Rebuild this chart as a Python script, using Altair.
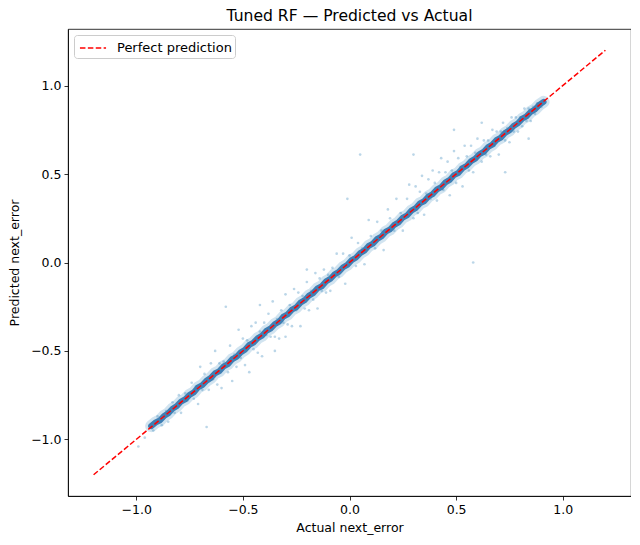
"""
Tuned RF - predicted vs actual scatter, recreated with Altair
"""
import pandas as pd
import altair as alt

alt.data_transformers.disable_max_rows()

# ---------------------------------------------------------------------------
# Data
# ---------------------------------------------------------------------------
# dense core of points that sits right on the diagonal
band_actual = [
    -0.93, -0.91, -0.89, -0.87, -0.85, -0.83, -0.81, -0.79, -0.77, -0.75,
    -0.73, -0.71, -0.69, -0.67, -0.65, -0.63, -0.61, -0.59, -0.57, -0.55,
    -0.53, -0.51, -0.49, -0.47, -0.45, -0.43, -0.41, -0.39, -0.37, -0.35,
    -0.33, -0.31, -0.29, -0.27, -0.25, -0.23, -0.21, -0.19, -0.17, -0.15,
    -0.13, -0.11, -0.09, -0.07, -0.05, -0.03, -0.01, 0.01, 0.03, 0.05,
    0.07, 0.09, 0.11, 0.13, 0.15, 0.17, 0.19, 0.21, 0.23, 0.25,
    0.27, 0.29, 0.31, 0.33, 0.35, 0.37, 0.39, 0.41, 0.43, 0.45,
    0.47, 0.49, 0.51, 0.53, 0.55, 0.57, 0.59, 0.61, 0.63, 0.65,
    0.67, 0.69, 0.71, 0.73, 0.75, 0.77, 0.79, 0.81, 0.83, 0.85,
    0.87, 0.89, 0.91,
]
band_pred = [
    -0.925, -0.905, -0.893, -0.868, -0.853, -0.827, -0.812, -0.786, -0.773, -0.748,
    -0.734, -0.706, -0.693, -0.668, -0.652, -0.626, -0.614, -0.587, -0.574, -0.547,
    -0.534, -0.508, -0.493, -0.466, -0.453, -0.427, -0.414, -0.386, -0.373, -0.348,
    -0.334, -0.306, -0.293, -0.267, -0.254, -0.227, -0.213, -0.187, -0.173, -0.146,
    -0.134, -0.107, -0.093, -0.067, -0.053, -0.027, -0.013, 0.013, 0.027, 0.053,
    0.067, 0.094, 0.107, 0.133, 0.147, 0.174, 0.187, 0.213, 0.227, 0.254,
    0.266, 0.293, 0.307, 0.334, 0.346, 0.373, 0.387, 0.413, 0.426, 0.453,
    0.467, 0.494, 0.506, 0.533, 0.547, 0.573, 0.587, 0.613, 0.626, 0.653,
    0.667, 0.693, 0.706, 0.733, 0.747, 0.772, 0.787, 0.813, 0.826, 0.852,
    0.866, 0.891, 0.908,
]

# scattered points away from the diagonal
spread_actual = [
    # lower tail
    -0.99, -0.96, -0.92, -0.90, -0.88, -0.86, -0.85, -0.83, -0.82, -0.80, -0.79, -0.77, -0.76,
    -0.74, -0.73, -0.72, -0.71, -0.70, -0.69, -0.68, -0.67, -0.66, -0.65,
    -0.64, -0.63, -0.62, -0.61, -0.60, -0.59, -0.58, -0.57, -0.56, -0.55,
    -0.54, -0.53, -0.52, -0.51, -0.50, -0.49, -0.48, -0.47, -0.46,
    # lower middle
    -0.45, -0.44, -0.43, -0.42, -0.41, -0.40, -0.39, -0.38, -0.37, -0.36,
    -0.35, -0.34, -0.33, -0.32, -0.31, -0.30, -0.29, -0.28, -0.27, -0.26,
    -0.25, -0.24, -0.23, -0.22, -0.21, -0.20, -0.19, -0.18, -0.17, -0.16,
    -0.15, -0.14, -0.13, -0.12, -0.11, -0.10, -0.42, -0.30, -0.20, -0.35,
    # around zero
    -0.09, -0.08, -0.06, -0.05, -0.03, -0.02, 0.00, 0.01, 0.03, 0.04,
    0.06, 0.07, 0.09, 0.10, 0.12, 0.13, 0.15, 0.16, 0.18, 0.19,
    0.21, 0.22, 0.24, 0.25, 0.27, 0.28, 0.30, -0.01, 0.05,
    # upper middle
    0.31, 0.32, 0.33, 0.34, 0.35, 0.36, 0.37, 0.38, 0.39, 0.40,
    0.41, 0.42, 0.43, 0.44, 0.45, 0.46, 0.47, 0.48, 0.49, 0.50,
    0.51, 0.52, 0.53, 0.54, 0.55, 0.56, 0.57, 0.58, 0.59, 0.60,
    0.62, 0.63, 0.64, 0.58, 0.30, 0.49,
    # upper tail
    0.65, 0.66, 0.67, 0.68, 0.69, 0.70, 0.71, 0.72, 0.73, 0.74,
    0.75, 0.76, 0.77, 0.78, 0.79, 0.80, 0.81, 0.82, 0.83, 0.84,
    0.85, 0.86, 0.87, 0.88, 0.90, 0.62, 0.73, 0.84,
]
spread_pred = [
    # lower tail
    -1.04, -0.99, -0.95, -0.87, -0.92, -0.84, -0.90, -0.79, -0.85, -0.75, -0.85, -0.74, -0.78,
    -0.68, -0.77, -0.70, -0.80, -0.59, -0.72, -0.63, -0.93, -0.72, -0.57,
    -0.66, -0.50, -0.69, -0.57, -0.71, -0.56, -0.25, -0.62, -0.47, -0.67,
    -0.52, -0.59, -0.38, -0.54, -0.43, -0.58, -0.44, -0.62, -0.36,
    # lower middle
    -0.49, -0.34, -0.51, -0.39, -0.53, -0.34, -0.41, -0.29, -0.42, -0.22,
    -0.42, -0.32, -0.43, -0.27, -0.34, -0.18, -0.35, -0.24, -0.36, -0.15,
    -0.27, -0.17, -0.36, -0.19, -0.26, -0.11, -0.27, -0.16, -0.21, -0.06,
    -0.26, -0.09, -0.16, -0.04, -0.17, -0.07, -0.24, -0.42, -0.04, -0.50,
    # around zero
    -0.16, -0.03, 0.05, -0.08, 0.05, -0.12, 0.04, 0.14, -0.02, 0.11,
    0.08, -0.01, 0.24, 0.15, 0.08, 0.23, 0.18, 0.07, 0.30, 0.25,
    0.18, 0.36, 0.28, 0.18, 0.36, 0.44, 0.25, 0.36, 0.61,
    # upper middle
    0.43, 0.28, 0.40, 0.49, 0.27, 0.39, 0.47, 0.36, 0.52, 0.45,
    0.35, 0.51, 0.59, 0.41, 0.51, 0.57, 0.38, 0.52, 0.63, 0.45,
    0.59, 0.54, 0.43, 0.66, 0.60, 0.52, 0.66, 0.51, 0.62, 0.70,
    0.57, 0.69, 0.61, 0.00, 0.61, 0.75,
    # upper tail
    0.69, 0.60, 0.75, 0.66, 0.74, 0.61, 0.74, 0.79, 0.69, 0.76,
    0.68, 0.82, 0.74, 0.82, 0.74, 0.82, 0.77, 0.87, 0.80, 0.87,
    0.80, 0.88, 0.84, 0.90, 0.88, 0.79, 0.51, 0.70,
]

# the y = x reference line
line_vals = [-1.2, 1.2]
line_name = "Perfect prediction"

x_ticks = [-1.0, -0.5, 0.0, 0.5, 1.0]
y_ticks = [-1.0, -0.5, 0.0, 0.5, 1.0]
domain = [-1.32, 1.32]

band_df = pd.DataFrame({"actual": band_actual, "pred": band_pred})
spread_df = pd.DataFrame({"actual": spread_actual, "pred": spread_pred})
line_df = pd.DataFrame({"actual": line_vals, "pred": line_vals, "series": [line_name] * 2})

FONT = "DejaVu Sans"
BLUE = "#1f77b4"

x_enc = alt.X(
    "actual:Q",
    title="Actual next_error",
    scale=alt.Scale(domain=domain, nice=False, zero=False),
    axis=alt.Axis(values=x_ticks, format=".1f", grid=False, titlePadding=6),
)
y_enc = alt.Y(
    "pred:Q",
    title="Predicted next_error",
    scale=alt.Scale(domain=domain, nice=False, zero=False),
    axis=alt.Axis(values=y_ticks, format=".1f", grid=False, titlePadding=9),
)

# faint scattered points
spread = alt.Chart(spread_df).mark_circle(size=7, color=BLUE, opacity=0.3).encode(x=x_enc, y=y_enc)

# the dense diagonal: a soft halo and a solid core drawn through the band points
halo = alt.Chart(band_df).mark_line(
    color=BLUE, opacity=0.2, strokeWidth=12, strokeCap="round"
).encode(x="actual:Q", y="pred:Q", order="actual:Q")
band = alt.Chart(band_df).mark_line(
    color="#2f73ad", opacity=0.9, strokeWidth=6, strokeCap="round"
).encode(x="actual:Q", y="pred:Q", order="actual:Q")

line = alt.Chart(line_df).mark_line(strokeDash=[5.5, 2.4], strokeWidth=1.5).encode(
    x="actual:Q",
    y="pred:Q",
    color=alt.Color(
        "series:N",
        scale=alt.Scale(domain=[line_name], range=["#ff0000"]),
        legend=alt.Legend(
            title=None,
            orient="top-left",
            symbolType="M-1.45,0H1.45",
            symbolDash=[5.5, 2.4],
            symbolStrokeWidth=1.5,
            symbolStrokeColor="#ff0000",
            symbolFillColor="transparent",
            symbolSize=324,
            symbolOffset=6,
            labelOffset=14,
            offset=6,
            padding=3,
            fillColor="white",
            strokeColor="#cccccc",
            cornerRadius=3,
            labelFontSize=13,
            labelFont=FONT,
            labelColor="black",
        ),
    ),
)

chart = alt.layer(spread, halo, band, line).properties(
    width=563,
    height=467,
    title=alt.TitleParams("Tuned RF — Predicted vs Actual", font=FONT, fontSize=15.6,
                          fontWeight="normal", color="black", offset=4),
    autosize=alt.AutoSizeParams(type="none"),
    padding={"left": 60, "top": 21, "right": 0, "bottom": 42},
).configure_view(
    stroke="black",
    strokeWidth=0.8,
).configure_axis(
    labelFont=FONT,
    titleFont=FONT,
    labelFontSize=12.5,
    titleFontSize=12.5,
    titleFontWeight="normal",
    labelColor="black",
    titleColor="black",
    domainColor="black",
    domainWidth=0.8,
    tickColor="black",
    tickWidth=0.8,
    tickSize=4,
    labelPadding=3,
)

chart.save("out.html", embed_options={"renderer": "svg", "actions": False})
print("saved out.html")
